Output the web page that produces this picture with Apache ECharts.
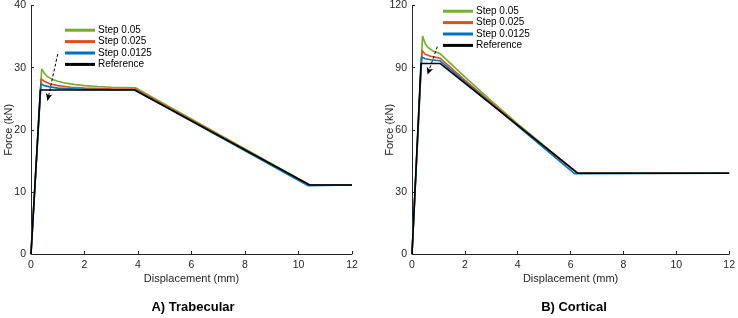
<!DOCTYPE html>
<html><head><meta charset="utf-8">
<script src="https://cdn.jsdelivr.net/npm/echarts@6/dist/echarts.min.js"></script>
<style>html,body{margin:0;padding:0;background:#fff}#c{width:738px;height:318px}</style>
</head><body><div id="c"></div>
<script>
// ---- Data: A) Trabecular ----
const seriesNames = ['Step 0.05', 'Step 0.025', 'Step 0.0125', 'Reference'];
const trabGreenX = [0, 0.4, 0.5, 0.6, 0.8, 1.0, 1.3, 1.6, 2.0, 2.5, 3.0, 3.5, 3.9, 10.42, 12];
const trabGreenY = [0, 29.8, 29.1, 28.6, 28.1, 27.8, 27.5, 27.3, 27.1, 26.95, 26.85, 26.8, 26.75, 11.1, 11.1];
const trabOrangeX = [0, 0.38, 0.5, 0.7, 1.0, 1.5, 2.0, 3.0, 3.9, 10.4, 12];
const trabOrangeY = [0, 28.2, 27.8, 27.4, 27.1, 26.85, 26.7, 26.6, 26.55, 11.1, 11.1];
const trabBlueX = [0, 0.37, 0.5, 0.7, 1.0, 1.5, 2.0, 3.0, 3.88, 10.35, 12];
const trabBlueY = [0, 27.4, 27.1, 26.9, 26.7, 26.6, 26.5, 26.45, 26.45, 11.0, 11.1];
const trabRefX = [0, 0.35, 3.87, 10.42, 12];
const trabRefY = [0, 26.4, 26.4, 11.1, 11.1];
const trabArrow = [[1.0, 32.2], [0.62, 24.7]];
const trabYTicks = [0, 10, 20, 30, 40];

// ---- Data: B) Cortical ----
const cortGreenX = [0, 0.4, 0.5, 0.6, 0.8, 1.06, 2.0, 3.0, 4.0, 6.25, 12];
const cortGreenY = [0, 105.3, 101.5, 99.8, 98.0, 96.8, 85.5, 74.0, 62.8, 39.2, 39.2];
const cortOrangeX = [0, 0.38, 0.5, 0.7, 1.06, 2.0, 4.0, 6.25, 12];
const cortOrangeY = [0, 98.3, 96.5, 95.5, 94.6, 84.0, 62.4, 39.0, 39.0];
const cortBlueX = [0, 0.36, 0.5, 0.7, 1.06, 6.15, 12];
const cortBlueY = [0, 95.2, 94.3, 93.8, 93.3, 38.8, 39.0];
const cortRefX = [0, 0.34, 1.06, 6.27, 12];
const cortRefY = [0, 92.0, 92.0, 39.0, 39.0];
const cortArrow = [[0.96, 100.2], [0.59, 86.7]];
const cortYTicks = [0, 30, 60, 90, 120];

const xTicks = [0, 2, 4, 6, 8, 10, 12];
const titles = ['A) Trabecular', 'B) Cortical'];
const xName = 'Displacement (mm)';
const yName = 'Force (kN)';

const colors = ['#77AC30', '#D95319', '#0072BD', '#000000'];
const FONT = 'Liberation Sans, Arial, sans-serif';
const zip = (xs, ys) => xs.map((x, i) => [x, ys[i]]);

function mkAxisX(gi) {
  return {
    type: 'value', gridIndex: gi, min: xTicks[0], max: xTicks[xTicks.length - 1], interval: 2,
    name: xName, nameLocation: 'middle', nameGap: 19, nameMoveOverlap: false,
    nameTextStyle: { fontFamily: FONT, fontSize: 11, color: '#262626' },
    axisLine: { lineStyle: { color: '#262626', width: 1 } },
    axisTick: { inside: true, length: 3, lineStyle: { color: '#262626' } },
    axisLabel: { fontFamily: FONT, fontSize: 10.5, color: '#262626', margin: 6 },
    splitLine: { show: false }
  };
}
function mkAxisY(gi, ticks) {
  return {
    type: 'value', gridIndex: gi, min: ticks[0], max: ticks[ticks.length - 1], interval: ticks[1] - ticks[0],
    name: yName, nameLocation: 'middle', nameGap: 17, nameMoveOverlap: false,
    nameTextStyle: { fontFamily: FONT, fontSize: 11, color: '#262626' },
    axisLine: { show: true, lineStyle: { color: '#262626', width: 1 } },
    axisTick: { show: true, inside: true, length: 3, lineStyle: { color: '#262626' } },
    axisLabel: { fontFamily: FONT, fontSize: 10.5, color: '#262626', margin: 5 },
    splitLine: { show: false }
  };
}
function mkSeries(gi, sets, arrow) {
  return sets.map((s, i) => {
    const o = {
      name: seriesNames[i], type: 'line', xAxisIndex: gi, yAxisIndex: gi,
      data: zip(s[0], s[1]), symbol: 'none', animation: false,
      lineStyle: { color: colors[i], width: 1.6 }, itemStyle: { color: colors[i] }, z: 2 + i
    };
    if (i === 3) {
      o.markLine = {
        silent: true, symbol: ['none', 'arrow'], symbolSize: [5, 7], animation: false,
        label: { show: false },
        lineStyle: { type: [3, 2], color: '#000', width: 1 },
        data: [[{ coord: arrow[0] }, { coord: arrow[1] }]]
      };
    }
    return o;
  });
}
function mkLegend(left, top) {
  return {
    left: left, top: top, orient: 'vertical', itemWidth: 30, itemHeight: 3, itemGap: 0,
    icon: 'rect', data: seriesNames, selectedMode: false,
    textStyle: { fontFamily: FONT, fontSize: 10, color: '#000', lineHeight: 11.4, padding: [0, 0, 0, -2] },
    padding: 0
  };
}

const chart = echarts.init(document.getElementById('c'), null, { renderer: 'canvas' });
chart.setOption({
  backgroundColor: '#fff',
  animation: false,
  title: [
    { text: titles[0], left: 193, top: 301, padding: 0, textAlign: 'center', textStyle: { fontFamily: FONT, fontSize: 13, fontWeight: 'bold', color: '#000' } },
    { text: titles[1], left: 574, top: 301, padding: 0, textAlign: 'center', textStyle: { fontFamily: FONT, fontSize: 13, fontWeight: 'bold', color: '#000' } }
  ],
  grid: [
    { left: 31, top: 3, width: 321, height: 251 },
    { left: 412, top: 3, width: 320, height: 251 }
  ],
  legend: [mkLegend(65, 24.5), mkLegend(443, 5.5)],
  xAxis: [mkAxisX(0), mkAxisX(1)],
  yAxis: [mkAxisY(0, trabYTicks), mkAxisY(1, cortYTicks)],
  series: [].concat(
    mkSeries(0, [[trabGreenX, trabGreenY], [trabOrangeX, trabOrangeY], [trabBlueX, trabBlueY], [trabRefX, trabRefY]], trabArrow),
    mkSeries(1, [[cortGreenX, cortGreenY], [cortOrangeX, cortOrangeY], [cortBlueX, cortBlueY], [cortRefX, cortRefY]], cortArrow)
  )
});
</script></body></html>
